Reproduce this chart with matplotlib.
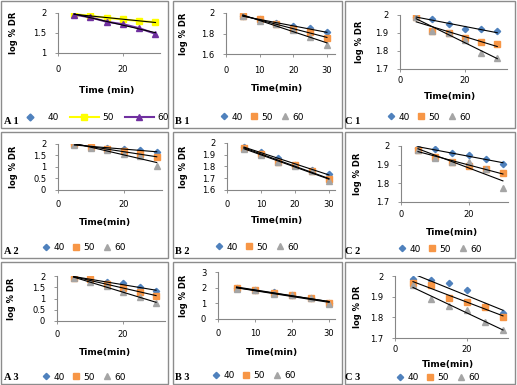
import numpy as np
import matplotlib
matplotlib.use("Agg")
import matplotlib.pyplot as plt
from matplotlib.patches import Rectangle

# ---------- data (log % DR vs time) ----------
time_min = [5, 10, 15, 20, 25, 30]
temps = ["40", "50", "60"]

a1_40 = []
a1_50 = [1.97, 1.93, 1.88, 1.84, 1.80, 1.77]
a1_60 = [1.96, 1.89, 1.78, 1.72, 1.62, 1.48]

b1_40 = [1.97, 1.94, 1.90, 1.87, 1.85, 1.81]
b1_50 = [1.97, 1.94, 1.89, 1.84, 1.81, 1.76]
b1_60 = [1.97, 1.92, 1.89, 1.83, 1.77, 1.69]

c1_40 = [1.99, 1.98, 1.95, 1.92, 1.92, 1.91]
c1_50 = [1.99, 1.91, 1.90, 1.87, 1.85, 1.84]
c1_60 = [1.99, 1.91, 1.90, 1.86, 1.79, 1.76]

a2_40 = [1.98, 1.88, 1.81, 1.79, 1.72, 1.67]
a2_50 = [1.98, 1.87, 1.80, 1.70, 1.55, 1.42]
a2_60 = [1.97, 1.83, 1.75, 1.58, 1.48, 1.05]

b2_40 = [1.97, 1.92, 1.87, 1.81, 1.77, 1.74]
b2_50 = [1.96, 1.91, 1.84, 1.81, 1.76, 1.69]
b2_60 = [1.95, 1.90, 1.84, 1.80, 1.76, 1.68]

c2_40 = [1.99, 1.985, 1.96, 1.95, 1.93, 1.905]
c2_50 = [1.98, 1.94, 1.915, 1.895, 1.875, 1.855]
c2_60 = [1.98, 1.935, 1.915, 1.915, 1.875, 1.775]

a3_40 = [1.95, 1.85, 1.75, 1.67, 1.50, 1.32]
a3_50 = [1.93, 1.85, 1.65, 1.45, 1.30, 1.12]
a3_60 = [1.90, 1.75, 1.55, 1.30, 1.05, 0.80]

b3_40 = [1.97, 1.85, 1.75, 1.55, 1.35, 1.00]
b3_50 = [1.95, 1.85, 1.65, 1.55, 1.35, 1.02]
b3_60 = [1.93, 1.82, 1.62, 1.52, 1.32, 0.95]

c3_40 = [1.985, 1.98, 1.965, 1.93, 1.855, 1.82]
c3_50 = [1.965, 1.955, 1.895, 1.875, 1.85, 1.80]
c3_60 = [1.955, 1.89, 1.855, 1.835, 1.775, 1.74]

W, H = 517, 385
fig = plt.figure(figsize=(W / 100, H / 100), dpi=100)
plt.rcParams['font.family'] = 'DejaVu Sans'


def fx(x):
    return x / W


def fy(y):
    return 1 - y / H


# panel frames (double gray borders)
for x0, x1 in [(1, 168), (173, 342), (345, 515)]:
    for y0, y1 in [(1, 128), (132, 258), (262, 384)]:
        fig.add_artist(Rectangle((fx(x0), fy(y1)), fx(x1 - x0), (y1 - y0) / H,
                                 transform=fig.transFigure, fill=False,
                                 edgecolor="#8c8c8c", linewidth=1.0))

BLUE = "#4F81BD"
ORANGE = "#F79646"
GRAY = "#A5A5A5"

panels = [
    # name, data, box(left,right,top,bottom px), ylim, yticks, xmax, xticks, xpad, ylab x, xlab(x,y), legend(x,y), label(x,y)
    ("A 1", (a1_40, a1_50, a1_60), (58, 160, 13, 53), (1, 2), [1, 1.5, 2], 31.4, [0, 20], 6.4, 14, (107, 90), (92, 118), (4, 121)),
    ("B 1", (b1_40, b1_50, b1_60), (226, 335, 13, 54), (1.6, 2), [1.6, 1.8, 2], 32.4, [0, 10, 20, 30], 6.4, 184, (277, 89), (262, 117), (175, 121)),
    ("C 1", (c1_40, c1_50, c1_60), (400, 507, 15, 69), (1.7, 2), [1.7, 1.8, 1.9, 2], 33, [0, 20], 2.2, 359, (450, 96), (429, 117), (345, 121)),
    ("A 2", (a2_40, a2_50, a2_60), (58, 162, 144, 190), (0, 2), [0, 0.5, 1, 1.5, 2], 31.6, [0, 20], 5, 14, (105, 223), (84, 248), (4, 251)),
    ("B 2", (b2_40, b2_50, b2_60), (227, 335, 143, 190), (1.6, 2), [1.6, 1.7, 1.8, 1.9, 2], 31.8, [0, 10, 20, 30], 5, 184, (277, 221), (257, 247), (175, 252)),
    ("C 2", (c2_40, c2_50, c2_60), (401, 508, 146, 202), (1.7, 2), [1.7, 1.8, 1.9, 2], 31.5, [0, 20], 3.6, 358, (452, 232), (440, 249), (345, 251)),
    ("A 3", (a3_40, a3_50, a3_60), (57, 165, 276, 321), (0, 2), [0, 0.5, 1, 1.5, 2], 32.7, [0, 20], 4.3, 12, (105, 353), (84, 377), (4, 378)),
    ("B 3", (b3_40, b3_50, b3_60), (218, 335, 272, 319), (0, 3), [0, 1, 2, 3], 31.6, [0, 10, 20, 30], 5, 183, (272, 352), (254, 376), (175, 377)),
    ("C 3", (c3_40, c3_50, c3_60), (395, 508, 276, 338), (1.7, 2), [1.7, 1.8, 1.9, 2], 31.4, [0, 20], 2.9, 358, (448, 364), (438, 378), (345, 378)),
]

for name, series, box, ylim, yticks, xmax, xticks, xpad, ylx, xlab, leg, lab in panels:
    left, right, top, bottom = box
    ax = fig.add_axes([fx(left), fy(bottom), fx(right - left), (bottom - top) / H])
    ax.set_xlim(0, xmax)
    ax.set_ylim(*ylim)
    ax.set_yticks(yticks)
    ax.set_xticks(xticks)
    ax.set_yticklabels([f"{t:g}" for t in yticks])
    for s in ["top", "right"]:
        ax.spines[s].set_visible(False)
    for s in ["left", "bottom"]:
        ax.spines[s].set_color("#868686")
        ax.spines[s].set_linewidth(0.8)
    ax.tick_params(labelsize=6, length=2.5, width=0.6, color="#868686", pad=6)
    ax.tick_params(axis="x", pad=xpad)
    ax.patch.set_alpha(0)

    if name == "A 1":
        styles = [
            dict(color=BLUE, marker="D", markersize=3.5, linestyle="none"),
            dict(color="#FFFF00", marker="s", markersize=5, linestyle="-", linewidth=1.5,
                 markeredgecolor="#FFFF00"),
            dict(color="#7030A0", marker="^", markersize=5, linestyle="-", linewidth=1.5),
        ]
    else:
        styles = [
            dict(color=BLUE, marker="D", markersize=3.2, linestyle="none"),
            dict(color=ORANGE, marker="s", markersize=5, linestyle="none"),
            dict(color=GRAY, marker="^", markersize=5, linestyle="none"),
        ]

    handles = []
    for vals, st, t in zip(series, styles, temps):
        h, = ax.plot(time_min[:len(vals)], vals, label=t, zorder=3, **st)
        handles.append(h)
    # linear trendlines
    for vals in series:
        if len(vals) == 0:
            continue
        k, b = np.polyfit(time_min, vals, 1)
        xs = np.array([time_min[0], time_min[-1]])
        ax.plot(xs, k * xs + b, color="black", linewidth=0.8, zorder=4)

    fig.text(fx(ylx), fy((top + bottom) / 2), "log % DR", rotation=90, fontsize=6,
             fontweight="bold", ha="center", va="center")
    fig.text(fx(xlab[0]), fy(xlab[1]), "Time (min)" if name == "A 1" else "Time(min)",
             fontsize=6.5, fontweight="bold", ha="center", va="center")
    fig.legend(handles=handles, loc="center", bbox_to_anchor=(fx(leg[0]), fy(leg[1])),
               ncol=3, frameon=False, fontsize=6.5,
               handlelength=3.2 if name == "A 1" else 0.8,
               handletextpad=0.4, columnspacing=1.2 if name == "A 1" else 0.9,
               borderaxespad=0, borderpad=0)
    fig.text(fx(lab[0]), fy(lab[1]), name, fontsize=7.5, fontweight="bold",
             family="Liberation Serif", ha="left", va="center")

fig.savefig("out.png", dpi=100)
